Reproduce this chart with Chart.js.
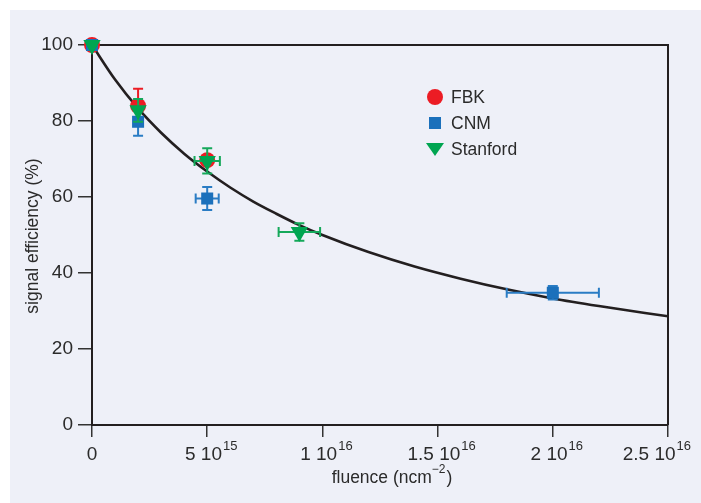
<!DOCTYPE html>
<html>
<head>
<meta charset="utf-8">
<script src="https://cdn.jsdelivr.net/npm/chart.js@4"></script>
<style>
  html, body { margin: 0; padding: 0; background: #fff; }
  canvas { display: block; }
</style>
</head>
<body>
<canvas id="chart" width="701" height="503"></canvas>
<script>
// ---- data ----
const FBK_X = [0, 2e15, 5e15];
const FBK_Y = [100, 84, 69.7];
const FBK_YERR = [0, 4.5, 0];
const FBK_XERR = [0, 0, 0];

const CNM_X = [0, 2e15, 5e15, 2e16];
const CNM_Y = [100, 79.8, 59.6, 34.8];
const CNM_YERR = [0, 3.7, 3, 1.8];
const CNM_XERR = [0, 0, 0.5e15, 2e15];

const STAN_X = [0, 2e15, 5e15, 9e15];
const STAN_Y = [100, 82.8, 69.5, 50.8];
const STAN_YERR = [0, 3, 3.3, 2.3];
const STAN_XERR = [0, 0, 0.55e15, 0.9e15];

// fitted curve, read at a handful of x values
const FIT_X = [0, 1e15, 2e15, 3e15, 4e15, 5e15, 6e15, 7e15, 8e15, 9e15, 1e16, 1.2e16, 1.4e16, 1.6e16, 1.8e16, 2e16, 2.2e16, 2.5e16];
const FIT_Y = [100, 90.9, 83.3, 76.9, 71.4, 66.7, 62.5, 58.8, 55.6, 52.6, 50, 45.5, 41.7, 38.5, 35.7, 33.3, 31.3, 28.6];

const X_TICKS = [0, 5e15, 1e16, 1.5e16, 2e16, 2.5e16];
const X_TICK_MAIN = ['0', '5 10', '1 10', '1.5 10', '2 10', '2.5 10'];
const X_TICK_SUP = ['', '15', '16', '16', '16', '16'];

const LEGEND_NAMES = ['FBK', 'CNM', 'Stanford'];

// ---- styles ----
const BG = '#eef0f8';
const INK = '#231f20';
const TXT = '#2b2b2b';
const C_FBK = '#ec1c24', C_CNM = '#1b70bb', C_STAN = '#00a551';
const SANS = '"Liberation Sans", Arial, sans-serif';

function pts(xs, ys) { return xs.map((x, i) => ({ x: x, y: ys[i] })); }

// background panel, white strip top/left
const bgPlugin = {
  id: 'bg',
  beforeDraw(chart) {
    const ctx = chart.ctx;
    ctx.save();
    ctx.fillStyle = '#fff';
    ctx.fillRect(0, 0, chart.width, chart.height);
    ctx.fillStyle = BG;
    ctx.fillRect(10, 10, chart.width - 10, chart.height - 10);
    ctx.restore();
  },
  beforeDatasetsDraw(chart) {
    // top and right frame lines
    const a = chart.chartArea, ctx = chart.ctx;
    ctx.save();
    ctx.strokeStyle = INK;
    ctx.lineWidth = 2;
    ctx.beginPath();
    ctx.moveTo(a.left, a.top);
    ctx.lineTo(a.right, a.top);
    ctx.lineTo(a.right, a.bottom);
    ctx.stroke();
    ctx.restore();
  }
};

// error bars, drawn just before each dataset's markers
const errPlugin = {
  id: 'err',
  beforeDatasetDraw(chart, args) {
    const ds = chart.data.datasets[args.index];
    if (!ds.yErr) return;
    const ctx = chart.ctx, xs = chart.scales.x, ys = chart.scales.y;
    const cap = 5;
    ctx.save();
    ctx.strokeStyle = ds.errColor;
    ctx.lineWidth = 2;
    ds.data.forEach((p, i) => {
      const px = xs.getPixelForValue(p.x), py = ys.getPixelForValue(p.y);
      const ye = ds.yErr[i], xe = ds.xErr[i];
      ctx.beginPath();
      if (ye > 0) {
        const t = ys.getPixelForValue(p.y + ye), b = ys.getPixelForValue(p.y - ye);
        ctx.moveTo(px, t); ctx.lineTo(px, b);
        ctx.moveTo(px - cap, t); ctx.lineTo(px + cap, t);
        ctx.moveTo(px - cap, b); ctx.lineTo(px + cap, b);
      }
      if (xe > 0) {
        const l = xs.getPixelForValue(p.x - xe), r = xs.getPixelForValue(p.x + xe);
        ctx.moveTo(l, py); ctx.lineTo(r, py);
        ctx.moveTo(l, py - cap); ctx.lineTo(l, py + cap);
        ctx.moveTo(r, py - cap); ctx.lineTo(r, py + cap);
      }
      ctx.stroke();
    });
    ctx.restore();
  }
};

function drawMarker(ctx, style, x, y, color) {
  ctx.fillStyle = color;
  ctx.beginPath();
  if (style === 'circle') {
    ctx.arc(x, y, 8, 0, Math.PI * 2);
  } else if (style === 'rect') {
    ctx.rect(x - 6, y - 6, 12, 12);
  } else {
    ctx.moveTo(x - 9, y - 6);
    ctx.lineTo(x + 9, y - 6);
    ctx.lineTo(x, y + 7);
    ctx.closePath();
  }
  ctx.fill();
}

// tick labels with superscripts, axis titles, legend
const textPlugin = {
  id: 'texts',
  afterDraw(chart) {
    const ctx = chart.ctx, xs = chart.scales.x;
    ctx.save();
    ctx.fillStyle = TXT;
    ctx.textBaseline = 'alphabetic';
    ctx.textAlign = 'left';

    X_TICKS.forEach((v, i) => {
      ctx.font = '19px ' + SANS;
      const wm = ctx.measureText(X_TICK_MAIN[i]).width;
      ctx.font = '13px ' + SANS;
      const ws = X_TICK_SUP[i] ? ctx.measureText(X_TICK_SUP[i]).width + 1 : 0;
      const total = wm + ws;
      let left = xs.getPixelForValue(v) - total / 2 + (ws ? 4 : 0);
      if (left + total > 691) left = 691 - total;
      ctx.font = '19px ' + SANS;
      ctx.fillText(X_TICK_MAIN[i], left, 460);
      if (ws) {
        ctx.font = '13px ' + SANS;
        ctx.fillText(X_TICK_SUP[i], left + wm + 1, 450);
      }
    });

    // x title
    ctx.font = '17.5px ' + SANS;
    const t1 = 'fluence (ncm', t2 = '\u22122', t3 = ')';
    const w1 = ctx.measureText(t1).width, w3 = ctx.measureText(t3).width;
    ctx.font = '12px ' + SANS;
    const w2 = ctx.measureText(t2).width + 1;
    let x0 = 392 - (w1 + w2 + w3) / 2;
    ctx.font = '17.5px ' + SANS;
    ctx.fillText(t1, x0, 483);
    ctx.fillText(t3, x0 + w1 + w2, 483);
    ctx.font = '12px ' + SANS;
    ctx.fillText(t2, x0 + w1, 473);

    // y title
    ctx.save();
    ctx.translate(33, 236);
    ctx.rotate(-Math.PI / 2);
    ctx.font = '17.5px ' + SANS;
    ctx.textAlign = 'center';
    ctx.textBaseline = 'middle';
    ctx.fillText('signal efficiency (%)', 0, 0);
    ctx.restore();

    // legend
    const styles = ['circle', 'rect', 'tri'];
    const colors = [C_FBK, C_CNM, C_STAN];
    ctx.font = '17.5px ' + SANS;
    ctx.textBaseline = 'middle';
    LEGEND_NAMES.forEach((name, i) => {
      const y = 97 + i * 26;
      drawMarker(ctx, styles[i], 435, y, colors[i]);
      ctx.fillStyle = TXT;
      ctx.fillText(name, 451, y + 1);
    });
    ctx.restore();
  }
};

new Chart(document.getElementById('chart'), {
  type: 'scatter',
  data: {
    datasets: [
      {
        label: 'fit', data: pts(FIT_X, FIT_Y), showLine: true,
        borderColor: INK, borderWidth: 2.6, pointRadius: 0,
        cubicInterpolationMode: 'monotone', fill: false, order: 10
      },
      {
        label: 'FBK', data: pts(FBK_X, FBK_Y), yErr: FBK_YERR, xErr: FBK_XERR, errColor: C_FBK,
        pointStyle: 'circle', pointRadius: 8, backgroundColor: C_FBK, borderWidth: 0,
        clip: false, order: 3
      },
      {
        label: 'CNM', data: pts(CNM_X, CNM_Y), yErr: CNM_YERR, xErr: CNM_XERR, errColor: '#2a7cc4',
        pointStyle: 'rect', pointRadius: 8.5, backgroundColor: C_CNM, borderWidth: 0,
        clip: false, order: 2
      },
      {
        label: 'Stanford', data: pts(STAN_X, STAN_Y), yErr: STAN_YERR, xErr: STAN_XERR, errColor: '#15a85a',
        pointStyle: 'triangle', rotation: 180, pointRadius: 10, backgroundColor: C_STAN, borderWidth: 0,
        clip: false, order: 1
      }
    ]
  },
  options: {
    responsive: false,
    animation: false,
    events: [],
    layout: { padding: { top: 45, right: 33, left: 0, bottom: 0 } },
    plugins: { legend: { display: false }, tooltip: { enabled: false } },
    scales: {
      x: {
        type: 'linear', min: 0, max: 2.5e16,
        afterBuildTicks: s => { s.ticks = X_TICKS.map(v => ({ value: v })); },
        afterFit: s => { s.height = 78; },
        ticks: { display: false },
        grid: { drawOnChartArea: false, drawTicks: true, tickLength: 12, color: '#333', lineWidth: 1.5 },
        border: { display: true, color: INK, width: 2 }
      },
      y: {
        min: 0, max: 100,
        afterFit: s => { s.width = 92; },
        ticks: { stepSize: 20, color: TXT, padding: 5, font: { family: SANS, size: 19 } },
        grid: { drawOnChartArea: false, drawTicks: true, tickLength: 14, color: '#333', lineWidth: 1.5 },
        border: { display: true, color: INK, width: 2 }
      }
    }
  },
  plugins: [bgPlugin, errPlugin, textPlugin]
});
</script>
</body>
</html>
